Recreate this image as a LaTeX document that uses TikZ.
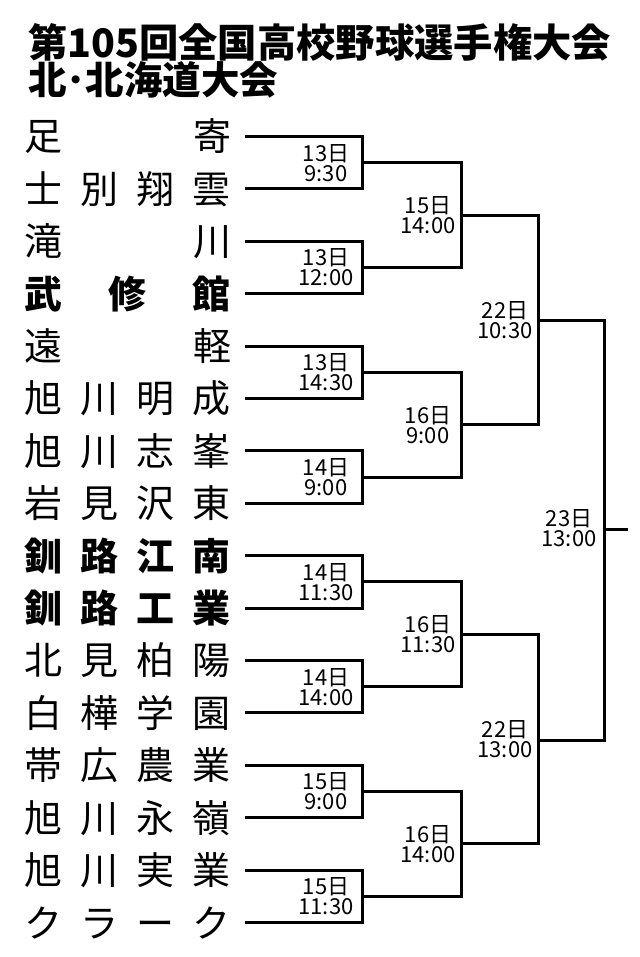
\documentclass[tikz,border=0pt]{standalone}
\usepackage{fontspec}
\newfontfamily\jp{Noto Sans CJK JP}
\newcommand{\teamfour}[4]{\makebox[56pt]{#1}\makebox[56pt]{#2}\makebox[56pt]{#3}\makebox[56pt]{#4}}
\newcommand{\teamtwo}[2]{\makebox[56pt]{#1}\makebox[112pt]{}\makebox[56pt]{#2}}
\newcommand{\teamthree}[3]{\makebox[56pt]{#1}\makebox[112pt]{#2}\makebox[56pt]{#3}}
\begin{document}
\begin{tikzpicture}[x=1pt,y=-1pt,
  team/.style={inner sep=0pt,outer xsep=5pt,font=\jp\fontsize{38}{38}\selectfont},
  teamb/.style={team,font=\jp\bfseries\fontsize{38}{38}\selectfont},
  lbl/.style={inner sep=0pt,align=center,font=\jp\fontsize{22}{20}\selectfont},
  br/.style={line width=3pt,line join=miter,line cap=butt}]
\useasboundingbox (0,0) rectangle (639,957);
\node[anchor=north west,inner sep=0pt,align=left] (title) at (28,23)
  {{\jp\bfseries\fontsize{39.3}{40}\selectfont 第105回全国高校野球選手権大会}\\
   {\jp\bfseries\fontsize{38.5}{40}\selectfont 北･北海道大会}};
% teams
\node[team]  (t1)  at (128,136.5) {\teamtwo{足}{寄}};
\node[team]  (t2)  at (128,188.9) {\teamfour{士}{別}{翔}{雲}};
\node[team]  (t3)  at (128,241.3) {\teamtwo{滝}{川}};
\node[teamb] (t4)  at (128,293.7) {\teamthree{武}{修}{館}};
\node[team]  (t5)  at (128,346.1) {\teamtwo{遠}{軽}};
\node[team]  (t6)  at (128,398.5) {\teamfour{旭}{川}{明}{成}};
\node[team]  (t7)  at (128,450.9) {\teamfour{旭}{川}{志}{峯}};
\node[team]  (t8)  at (128,503.3) {\teamfour{岩}{見}{沢}{東}};
\node[teamb] (t9)  at (128,555.7) {\teamfour{釧}{路}{江}{南}};
\node[teamb] (t10) at (128,608.1) {\teamfour{釧}{路}{工}{業}};
\node[team]  (t11) at (128,660.5) {\teamfour{北}{見}{柏}{陽}};
\node[team]  (t12) at (128,712.9) {\teamfour{白}{樺}{学}{園}};
\node[team]  (t13) at (128,765.3) {\teamfour{帯}{広}{農}{業}};
\node[team]  (t14) at (128,817.7) {\teamfour{旭}{川}{永}{嶺}};
\node[team]  (t15) at (128,870.1) {\teamfour{旭}{川}{実}{業}};
\node[team]  (t16) at (128,922.5) {\teamfour{ク}{ラ}{ー}{ク}};
% junctions
\coordinate (a1) at (362,162.7);
\coordinate (a2) at (362,267.5);
\coordinate (a3) at (362,372.3);
\coordinate (a4) at (362,477.1);
\coordinate (a5) at (362,581.9);
\coordinate (a6) at (362,686.7);
\coordinate (a7) at (362,791.5);
\coordinate (a8) at (362,896.3);
\coordinate (b1) at (461,215.1);
\coordinate (b2) at (461,424.7);
\coordinate (b3) at (461,634.3);
\coordinate (b4) at (461,843.9);
\coordinate (c1) at (538,320.9);
\coordinate (c2) at (538,740.1);
\coordinate (d1) at (604,529.5);
\coordinate (win) at (628,529.5);
% round 1
\foreach \i/\u/\l in {1/1/2,2/3/4,3/5/6,4/7/8,5/9/10,6/11/12,7/13/14,8/15/16}
  \draw[br] (t\u.east) -| (a\i) |- (t\l.east);
% round 2
\draw[br] (a1) -| (b1) |- (a2);
\draw[br] (a3) -| (b2) |- (a4);
\draw[br] (a5) -| (b3) |- (a6);
\draw[br] (a7) -| (b4) |- (a8);
% round 3
\draw[br] (b1) -| (c1) |- (b2);
\draw[br] (b3) -| (c2) |- (b4);
% final
\draw[br] (c1) -| (d1) |- (c2);
\draw[br] (d1) -- (win);
% labels
\node[lbl] (l1) at (326,162.7) {13日\\9:30};
\node[lbl] (l2) at (326,267.5) {13日\\12:00};
\node[lbl] (l3) at (326,372.3) {13日\\14:30};
\node[lbl] (l4) at (326,477.1) {14日\\9:00};
\node[lbl] (l5) at (326,581.9) {14日\\11:30};
\node[lbl] (l6) at (326,686.7) {14日\\14:00};
\node[lbl] (l7) at (326,791.5) {15日\\9:00};
\node[lbl] (l8) at (326,896.3) {15日\\11:30};
\node[lbl] (m1) at (428,215.1) {15日\\14:00};
\node[lbl] (m2) at (428,424.7) {16日\\9:00};
\node[lbl] (m3) at (428,634.3) {16日\\11:30};
\node[lbl] (m4) at (428,843.9) {16日\\14:00};
\node[lbl] (s1) at (505,319.9) {22日\\10:30};
\node[lbl] (s2) at (505,739.1) {22日\\13:00};
\node[lbl] (f1) at (569,528.5) {23日\\13:00};
\end{tikzpicture}
\end{document}
